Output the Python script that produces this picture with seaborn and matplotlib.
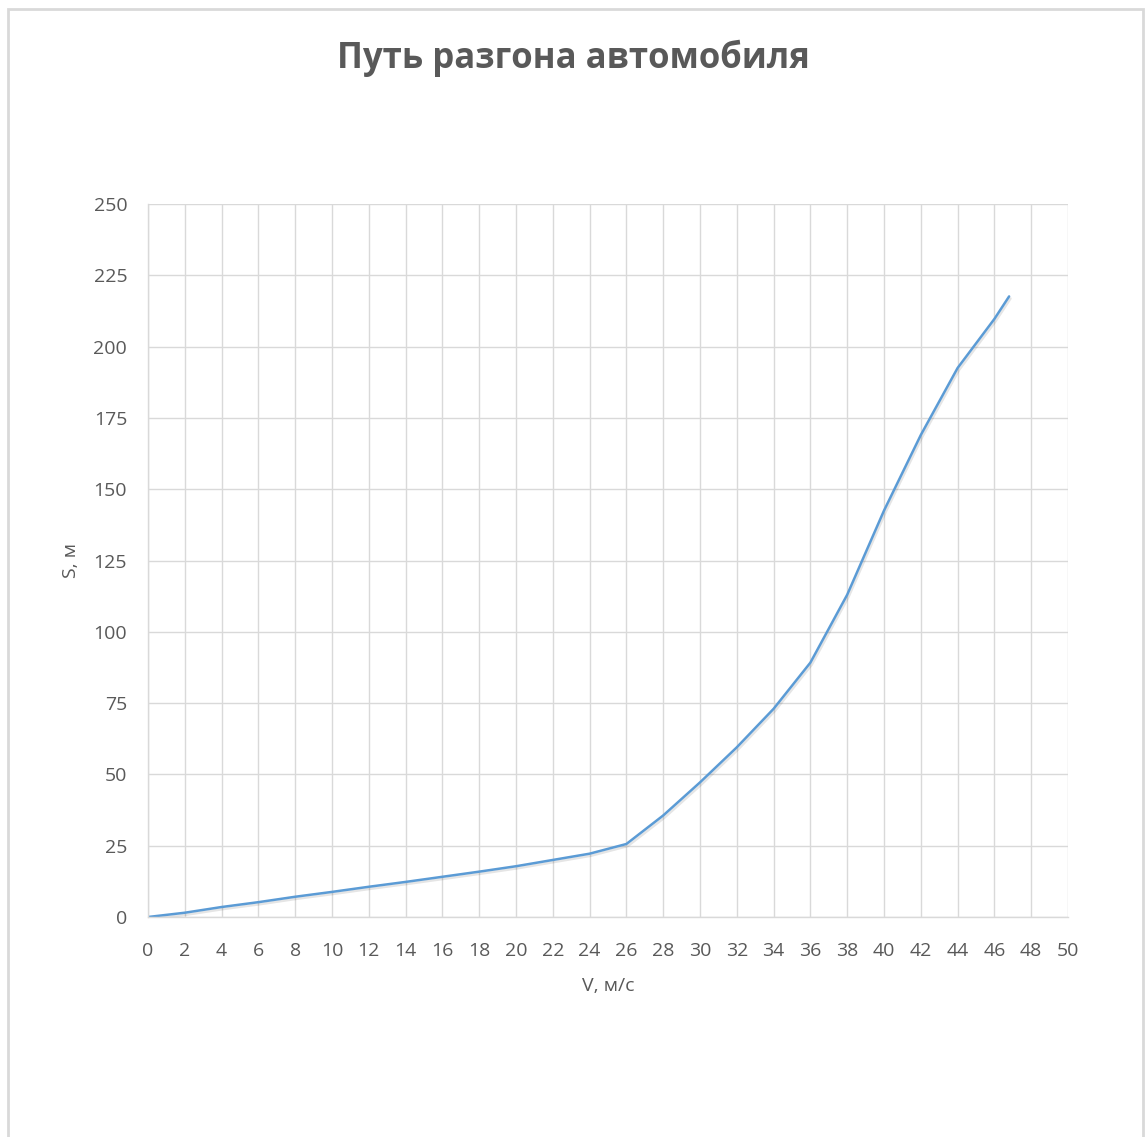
import matplotlib
matplotlib.use("Agg")
import matplotlib.pyplot as plt
import matplotlib.patheffects as pe
from matplotlib.patches import Rectangle
import seaborn as sns
import pandas as pd

# Скорость автомобиля, м/с, и пройденный путь разгона, м
speed = [0, 2, 4, 6, 8, 10, 12, 14, 16, 18, 20, 22, 24, 26, 28, 30, 32, 34,
         36, 38, 40, 42, 44, 46, 46.8]
distance = [0, 1.5, 3.5, 5.2, 7.1, 8.8, 10.6, 12.3, 14.1, 15.9, 17.8, 20.0,
            22.2, 25.6, 35.6, 47.2, 59.5, 73.0, 89.2, 113.0, 142.5, 169.0,
            192.5, 209.7, 217.6]

x_ticks = list(range(0, 51, 2))
y_ticks = list(range(0, 251, 25))

title = "Путь разгона автомобиля"
x_label = "V, м/с"
y_label = "S, м"

sns.set_theme(style="white")
plt.rcParams["font.family"] = ["Open Sans", "DejaVu Sans"]

text_grey = "#595959"
grid_grey = "#d9d9d9"
line_blue = "#5b9bd5"

fig = plt.figure(figsize=(11.47, 11.37), dpi=100)
fig.patch.set_facecolor("white")
ax = fig.add_axes([148 / 1147, 1 - 917 / 1137, 920 / 1147, 713 / 1137])

df = pd.DataFrame({"V": speed, "S": distance})
sns.lineplot(data=df, x="V", y="S", ax=ax, color=line_blue, linewidth=1.8,
             sort=False,
             path_effects=[pe.SimpleLineShadow(offset=(1.0, -1.5), alpha=0.1,
                                               shadow_color="#000000"),
                           pe.Normal()])

ax.set_xlim(0, 50)
ax.set_ylim(0, 250)
ax.set_xticks(x_ticks)
ax.set_yticks(y_ticks)
ax.grid(True, color=grid_grey, linewidth=1.0)
ax.set_axisbelow(True)
for side in ["top", "right"]:
    ax.spines[side].set_visible(False)
for side in ["left", "bottom"]:
    ax.spines[side].set_color(grid_grey)
    ax.spines[side].set_linewidth(1.0)
ax.tick_params(axis="both", length=0, labelsize=14, colors=text_grey)
ax.tick_params(axis="x", pad=18)
ax.tick_params(axis="y", pad=15)

ax.set_xlabel(x_label, fontsize=14, color=text_grey, labelpad=12)
ax.set_ylabel(y_label, fontsize=14, color=text_grey, labelpad=10)

fig.text(0.5, 1 - 58 / 1137, title, ha="center", va="center",
         fontsize=25, fontweight="bold", color=text_grey)

# Рамка области диаграммы
fig.patches.append(Rectangle((8 / 1147, -0.01), 1135 / 1147, 1 - 9 / 1137 + 0.01,
                             transform=fig.transFigure, fill=False,
                             edgecolor=grid_grey, linewidth=2))

fig.savefig("out.png", dpi=100)
